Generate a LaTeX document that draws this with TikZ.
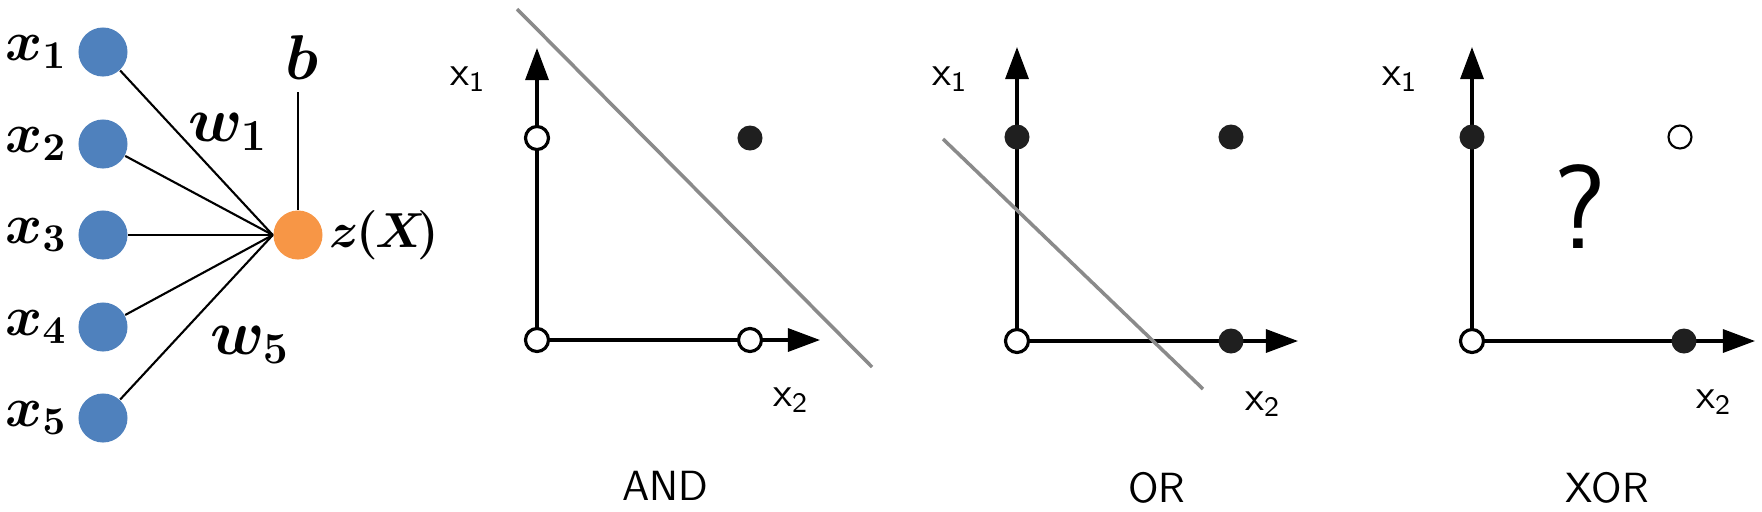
\RequirePackage{fix-cm}
\documentclass[tikz,border=0pt]{standalone}
\usepackage{amsmath,bm}
\usepackage{xcolor}
\usetikzlibrary{arrows.meta,positioning}

\definecolor{inblue}{HTML}{4F81BD}
\definecolor{outorange}{HTML}{F79646}
\definecolor{sepgray}{HTML}{8A8A8A}

\tikzset{
  inpt/.style={circle,fill=inblue,minimum size=0.49cm,inner sep=0pt},
  outpt/.style={circle,fill=outorange,minimum size=0.49cm,inner sep=0pt},
  wire/.style={line width=0.6pt},
  wlbl/.style={font=\fontsize{18}{20}\selectfont},
  xlbl/.style={font=\fontsize{16}{18}\selectfont,inner sep=0pt},
  opendot/.style={circle,draw,fill=white,line width=0.9pt,minimum size=0.23cm,inner sep=0pt},
  fulldot/.style={circle,fill=black!88,minimum size=0.25cm,inner sep=0pt},
  axisline/.style={line width=0.9pt,-{Triangle[length=0.32cm,width=0.23cm]}},
  sepline/.style={sepgray,line width=1pt},
  axlbl/.style={font=\sffamily\fontsize{12}{13}\selectfont},
  gatelbl/.style={font=\sffamily\fontsize{12}{14}\selectfont}
}

\begin{document}
\begin{tikzpicture}[x=0.01cm,y=-0.01cm]
\useasboundingbox (0,0) rectangle (1762,511);

% Perceptron
\node[inpt] (in1) at (103,52) {};
\node[inpt] (in2) at (103,144) {};
\node[inpt] (in3) at (103,235) {};
\node[inpt] (in4) at (103,327) {};
\node[inpt] (in5) at (103,418) {};
\node[outpt] (z) at (298,235) {};
\node[xlbl,left=0.1cm of in1] (lx1) {$\bm{x_1}$};
\node[xlbl,left=0.1cm of in2] (lx2) {$\bm{x_2}$};
\node[xlbl,left=0.1cm of in3] (lx3) {$\bm{x_3}$};
\node[xlbl,left=0.1cm of in4] (lx4) {$\bm{x_4}$};
\node[xlbl,left=0.1cm of in5] (lx5) {$\bm{x_5}$};
\node[font=\fontsize{14}{16}\selectfont,inner sep=0pt,right=0.06cm of z] (lz)
  {$\bm{z}\mkern-1mu\bm{(}\mkern-1mu\bm{X}\mkern-3mu\bm{)}$};
\node[wlbl] (b) at (302,58) {$\bm{b}$};
\node[wlbl] (w1) at (228,132) {$\bm{w_1}$};
\node[wlbl] (w5) at (250,345) {$\bm{w_5}$};
\draw[wire] (in1) -- (z.west);
\draw[wire] (in2) -- (z.west);
\draw[wire] (in3) -- (z.west);
\draw[wire] (in4) -- (z.west);
\draw[wire] (in5) -- (z.west);
\draw[wire] (z) -- (z |- b.south);

% AND
\coordinate (ao) at (537,340);
\coordinate (ay) at (537,48);
\coordinate (ax) at (820,340);
\draw[axisline] (ao) -- (ay);
\draw[axisline] (ao) -- (ax);
\draw[sepline] (517,9) -- (872,367);
\node[opendot] (a00) at (ao) {};
\node[opendot] (a10) at (537,138) {};
\node[opendot] (a01) at (750,340) {};
\node[fulldot] (a11) at (750,138) {};
\node[axlbl] (ax1) at (468,79) {x\textsubscript{1}};
\node[axlbl] (ax2) at (791,400) {x\textsubscript{2}};
\node[gatelbl] (andl) at (665,486) {AND};

% OR
\coordinate (oo) at (1017,341);
\coordinate (oy) at (1017,47);
\coordinate (ox) at (1298,341);
\draw[axisline] (oo) -- (oy);
\draw[axisline] (oo) -- (ox);
\draw[sepline] (943,139) -- (1203,389);
\node[opendot] (o00) at (oo) {};
\node[fulldot] (o10) at (1017,137) {};
\node[fulldot] (o01) at (1231,341) {};
\node[fulldot] (o11) at (1231,137) {};
\node[axlbl] (ox1) at (950,79) {x\textsubscript{1}};
\node[axlbl] (ox2) at (1263,404) {x\textsubscript{2}};
\node[gatelbl] (orl) at (1157,488) {OR};

% XOR
\coordinate (xo) at (1472,341);
\coordinate (xy) at (1472,47);
\coordinate (xx) at (1755,341);
\draw[axisline] (xo) -- (xy);
\draw[axisline] (xo) -- (xx);
\node[opendot] (x00) at (xo) {};
\node[fulldot] (x10) at (1472,137) {};
\node[fulldot] (x01) at (1684,341) {};
\node[opendot,line width=0.6pt] (x11) at (1680,137) {};
\node[font=\sffamily\fontsize{34}{36}\selectfont] (q) at (1580,207) {?};
\node[axlbl] (xx1) at (1400,79) {x\textsubscript{1}};
\node[axlbl] (xx2) at (1714,402) {x\textsubscript{2}};
\node[gatelbl] (xorl) at (1607,488) {XOR};
\end{tikzpicture}
\end{document}
